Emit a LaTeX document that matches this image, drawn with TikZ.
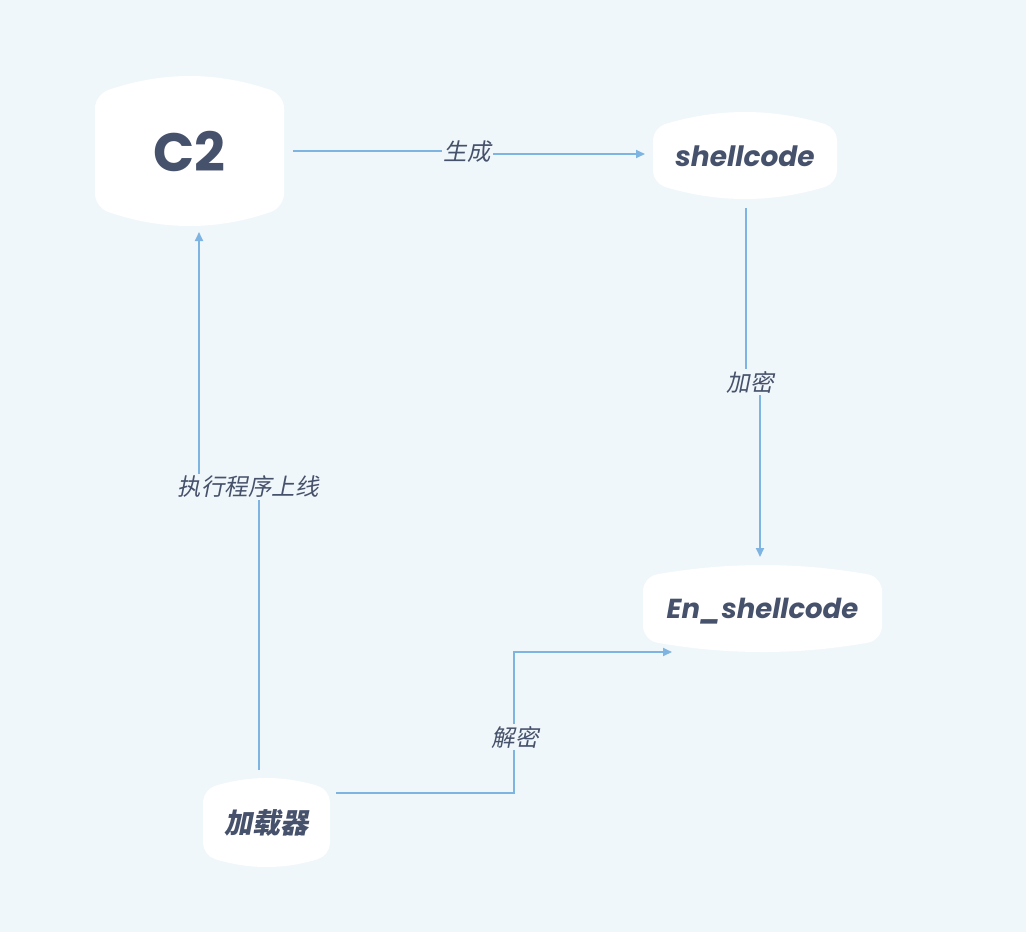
\documentclass[tikz,border=0pt]{standalone}
\usepackage{fontspec}
\usetikzlibrary{arrows.meta}
\newfontfamily\popfont{Poppins}
\newfontfamily\cjkfont[FakeSlant=0.2]{Noto Sans CJK SC}
\definecolor{bgc}{HTML}{F0F7FA}
\definecolor{txtc}{HTML}{46516B}
\definecolor{linec}{HTML}{7DB4E2}
\newcommand{\blobshape}[6]{% L R T B b r  (y down)
  \pgfmathsetmacro{\bL}{#1}\pgfmathsetmacro{\bR}{#2}
  \pgfmathsetmacro{\bT}{#3}\pgfmathsetmacro{\bB}{#4}
  \pgfmathsetmacro{\bb}{#5}\pgfmathsetmacro{\br}{#6}
  \pgfmathsetmacro{\bh}{(\bR-\bL)/2}\pgfmathsetmacro{\bcx}{(\bL+\bR)/2}
  \pgfmathsetmacro{\bw}{\bh-\br}
  \pgfmathsetmacro{\bq}{\bw*\bw/(\bh*\bh)}
  \pgfmathsetmacro{\bye}{\bb*(1-\bq)}
  \pgfmathsetmacro{\byk}{\bye+4/3*\bb*\bq}
  \pgfmathsetmacro{\bs}{2*\bb*\bw/(\bh*\bh)}
  \fill[white]
   (\bL,\bT+\br) .. controls (\bL,\bT+0.45*\br) and (\bL+0.45*\br,\bT-\bye+0.55*\br*\bs) .. (\bL+\br,\bT-\bye)
   .. controls (\bcx-\bw/3,\bT-\byk) and (\bcx+\bw/3,\bT-\byk) .. (\bR-\br,\bT-\bye)
   .. controls (\bR-0.45*\br,\bT-\bye+0.55*\br*\bs) and (\bR,\bT+0.45*\br) .. (\bR,\bT+\br)
   -- (\bR,\bB-\br)
   .. controls (\bR,\bB-0.45*\br) and (\bR-0.45*\br,\bB+\bye-0.55*\br*\bs) .. (\bR-\br,\bB+\bye)
   .. controls (\bcx+\bw/3,\bB+\byk) and (\bcx-\bw/3,\bB+\byk) .. (\bL+\br,\bB+\bye)
   .. controls (\bL+0.45*\br,\bB+\bye-0.55*\br*\bs) and (\bL,\bB-0.45*\br) .. (\bL,\bB-\br) -- cycle;
}
\begin{document}
\begin{tikzpicture}[x=1pt,y=-1pt,
  nodetxt/.style={text=txtc, inner sep=0pt, align=center},
  lbl/.style={text=txtc, fill=bgc, inner sep=2pt, font=\cjkfont\fontsize{23.5}{28}\selectfont},
  arr/.style={draw=linec, line width=1.8pt, -{Triangle[length=9pt,width=8pt]}}]
\fill[bgc] (0,0) rectangle (1026,932);
\useasboundingbox (0,0) rectangle (1026,932);

\blobshape{95}{284}{95}{207}{19}{13}
\blobshape{653}{837}{128}{183}{16}{12}
\blobshape{203}{330}{790}{855}{12}{12}
\blobshape{643}{882}{577}{640}{12}{14}

\node[nodetxt, font=\popfont\bfseries\fontsize{54}{58}\selectfont] (c2) at (189.5,151) {C2};
\node[nodetxt, font=\popfont\bfseries\itshape\fontsize{28}{32}\selectfont] (sc) at (745,156) {shellcode};
\node[nodetxt, font=\popfont\bfseries\itshape\fontsize{27.5}{32}\selectfont] (en) at (762.5,611) {En\_shellcode};
\node[nodetxt, font=\cjkfont\bfseries\fontsize{28}{32}\selectfont] (ld) at (266.5,823) {加载器};

\coordinate (a1s) at (293,151);
\coordinate (a1e) at (645,154);
\coordinate (a2s) at (746,208);
\coordinate (a2e) at (760,557);
\coordinate (a3s) at (259,770);
\coordinate (a3e) at (199,232);
\coordinate (a4s) at (336,793);
\coordinate (a4e) at (672,652);

\draw[arr] (a1s) -- (467,151) -- (467,154) -- (a1e);
\node[lbl] (l1) at (467,152) {生成};
\draw[arr] (a2s) -- (746,383) -- (760,383) -- (a2e);
\node[lbl] (l2) at (750,382) {加密};
\draw[arr] (a3s) -- (259,488) -- (199,488) -- (a3e);
\node[lbl] (l3) at (248,487) {执行程序上线};
\draw[arr] (a4s) -- (514,793) -- (514,652) -- (a4e);
\node[lbl] (l4) at (515,737) {解密};
\end{tikzpicture}
\end{document}
